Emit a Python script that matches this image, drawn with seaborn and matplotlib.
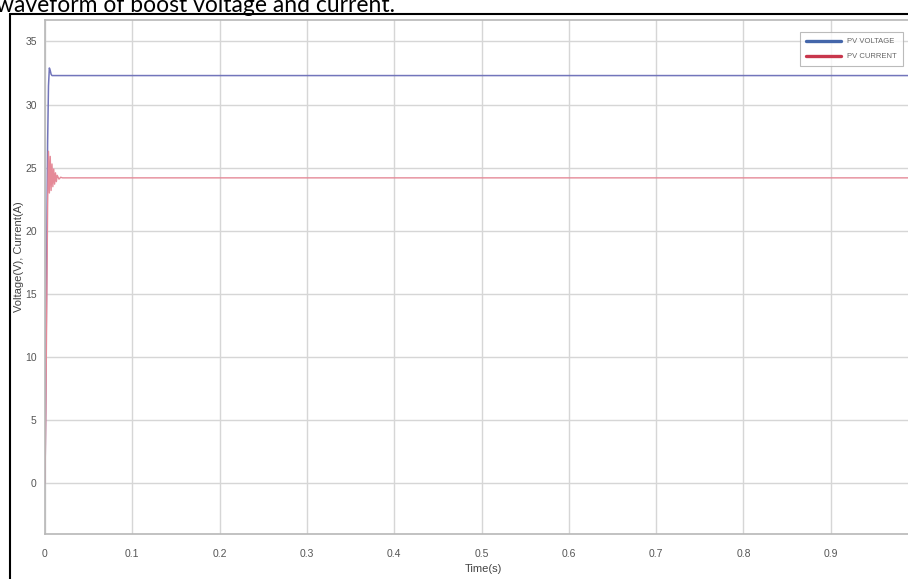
import matplotlib
matplotlib.use("Agg")
import matplotlib.pyplot as plt
from matplotlib.lines import Line2D
import seaborn as sns
import pandas as pd

# PV voltage transient (s, V)
t_voltage = [0.0, 0.001, 0.002, 0.003, 0.004, 0.005, 0.006, 0.007, 0.008, 0.010, 1.0]
voltage = [0.0, 8.0, 18.0, 27.0, 31.5, 32.9, 32.7, 32.4, 32.3, 32.3, 32.3]

# PV current transient (s, A)
t_current = [0.0, 0.001, 0.002, 0.003, 0.004, 0.005, 0.006, 0.007, 0.008, 0.009,
             0.010, 0.011, 0.012, 0.013, 0.014, 0.016, 0.018, 0.020, 1.0]
current = [0.0, 6.0, 14.0, 22.0, 26.3, 23.0, 25.9, 23.2, 25.3, 23.5,
           24.9, 23.7, 24.6, 23.9, 24.4, 24.1, 24.25, 24.2, 24.2]

x_ticks = [0, 0.1, 0.2, 0.3, 0.4, 0.5, 0.6, 0.7, 0.8, 0.9]
x_tick_labels = ["0", "0.1", "0.2", "0.3", "0.4", "0.5", "0.6", "0.7", "0.8", "0.9"]
y_ticks = [0, 5, 10, 15, 20, 25, 30, 35]
series_names = ["PV VOLTAGE", "PV CURRENT"]

df_v = pd.DataFrame({"t": t_voltage, "value": voltage})
df_i = pd.DataFrame({"t": t_current, "value": current})

sns.set_theme(style="white")
plt.rcParams["font.family"] = ["Liberation Sans Narrow", "Liberation Sans", "DejaVu Sans"]

W, H = 908, 579
fig = plt.figure(figsize=(W / 100, H / 100), dpi=100)
fig.patch.set_facecolor("white")

ax = fig.add_axes([45 / W, 1 - 534 / H, (918 - 45) / W, (534 - 20) / H])

sns.lineplot(data=df_v, x="t", y="value", ax=ax, color="#7275bb", linewidth=1.1,
             label=series_names[0], estimator=None)
sns.lineplot(data=df_i, x="t", y="value", ax=ax, color="#e58a98", linewidth=1.0,
             label=series_names[1], estimator=None)

ax.set_xlim(0, 1.0)
ax.set_ylim(-4, 36.7)
ax.set_xticks(x_ticks)
ax.set_xticklabels(x_tick_labels)
ax.set_yticks(y_ticks)
ax.grid(True, color="#d6d6d6", linewidth=1.0)
ax.set_axisbelow(True)

for side in ["left", "bottom", "top", "right"]:
    ax.spines[side].set_color("#b8b8b8")
    ax.spines[side].set_linewidth(1.2)

ax.tick_params(axis="both", direction="in", length=4, width=0.8, color="#888888",
               labelsize=7.5, labelcolor="#555555")
ax.tick_params(axis="x", pad=11)
ax.tick_params(axis="y", pad=6)

ax.set_xlabel("Time(s)", fontsize=8, color="#444444")
ax.set_ylabel("Voltage(V), Current(A)", fontsize=8, color="#444444")
ax.xaxis.set_label_coords(0.502, -0.059)
ax.yaxis.set_label_coords(-0.024, 0.54)

leg = ax.legend(loc="upper right", bbox_to_anchor=((907 - 45) / 873, (534 - 28) / 514),
                fontsize=5.5, frameon=True, fancybox=False, handlelength=4.6,
                borderpad=0.8, labelspacing=1.0, handletextpad=0.8)
leg.get_frame().set_edgecolor("#aaaaaa")
leg.get_frame().set_linewidth(0.8)
for line, c in zip(leg.get_lines(), ["#4466aa", "#c8364c"]):
    line.set_linewidth(2.4)
    line.set_color(c)
for txt in leg.get_texts():
    txt.set_color("#666666")

# Page frame and caption around the figure
fig.add_artist(Line2D([10 / W, 1.0], [1 - 14 / H, 1 - 14 / H], color="black", linewidth=1.5))
fig.add_artist(Line2D([10 / W, 10 / W], [0, 1 - 14 / H], color="black", linewidth=1.5))
fig.text(-4 / W, 1 - 12 / H, "waveform of boost voltage and current.", fontsize=16.5,
         family=["Lato", "DejaVu Sans"], color="black", ha="left", va="baseline")

fig.savefig("out.png", dpi=100)
